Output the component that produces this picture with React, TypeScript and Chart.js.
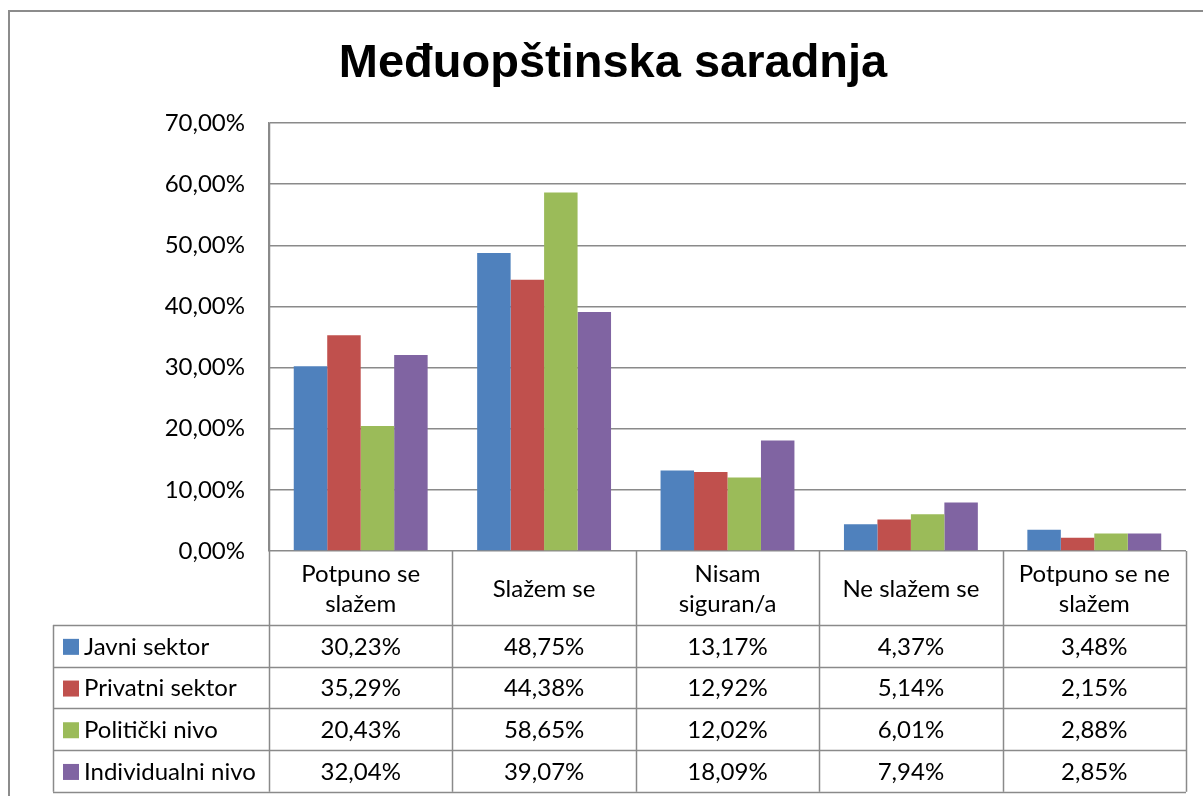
import React, { useEffect, useRef } from "react";
import { Chart, registerables } from "chart.js";

Chart.register(...registerables);

const TITLE = "Međuopštinska saradnja";
const categories: string[][] = [
  ["Potpuno se", "slažem"],
  ["Slažem se"],
  ["Nisam", "siguran/a"],
  ["Ne slažem se"],
  ["Potpuno se ne", "slažem"],
];
const seriesNames = ["Javni sektor", "Privatni sektor", "Politički nivo", "Individualni nivo"];
const seriesColors = ["#4F81BD", "#C0504D", "#9BBB59", "#8064A2"];
const javniSektor = [30.23, 48.75, 13.17, 4.37, 3.48];
const privatniSektor = [35.29, 44.38, 12.92, 5.14, 2.15];
const politickiNivo = [20.43, 58.65, 12.02, 6.01, 2.88];
const individualniNivo = [32.04, 39.07, 18.09, 7.94, 2.85];
const seriesValues = [javniSektor, privatniSektor, politickiNivo, individualniNivo];
const yMin = 0;
const yMax = 70;
const yStep = 10;

const FONT = "Lato, 'Noto Sans', sans-serif";
const LINE = "#8a8a8a";

const fmt = (v: number) => v.toFixed(2).replace(".", ",") + "%";

const decorPlugin = {
  id: "decor",
  beforeDraw(chart: any) {
    const ctx = chart.ctx;
    ctx.save();
    ctx.fillStyle = "#fff";
    ctx.fillRect(0, 0, chart.width, chart.height);
    ctx.strokeStyle = "#8c8c8c";
    ctx.lineWidth = 2;
    ctx.strokeRect(9, 11, chart.width + 40, chart.height + 40);
    ctx.fillStyle = "#000";
    ctx.font = "bold 47px 'Liberation Sans', Arial, sans-serif";
    ctx.textAlign = "center";
    ctx.textBaseline = "alphabetic";
    ctx.fillText(TITLE, 613, 77);
    ctx.restore();
  },
  afterDraw(chart: any) {
    const ctx = chart.ctx;
    const x = chart.scales.x;
    const area = chart.chartArea;
    const n = categories.length;
    const w = (area.right - area.left) / n;
    const headerBottom = area.bottom + 74;
    const rowH = 41.7;
    const tableBottom = headerBottom + rowH * seriesNames.length;
    const tableLeft = 53;
    ctx.save();
    ctx.strokeStyle = LINE;
    ctx.lineWidth = 1.5;
    // vertical lines
    for (let i = 0; i <= n; i++) {
      const px = Math.round(area.left + i * w) + 0.5;
      ctx.beginPath();
      ctx.moveTo(px, i === 0 ? area.top : area.bottom);
      ctx.lineTo(px, tableBottom);
      ctx.stroke();
    }
    ctx.beginPath();
    ctx.moveTo(tableLeft + 0.5, headerBottom);
    ctx.lineTo(tableLeft + 0.5, tableBottom);
    ctx.stroke();
    for (let r = 0; r <= seriesNames.length; r++) {
      const py = Math.round(headerBottom + r * rowH) + 0.5;
      ctx.beginPath();
      ctx.moveTo(tableLeft, py);
      ctx.lineTo(area.right, py);
      ctx.stroke();
    }
    ctx.fillStyle = "#000";
    ctx.font = `24px ${FONT}`;
    ctx.textAlign = "center";
    ctx.textBaseline = "middle";
    const headerMid = (area.bottom + headerBottom) / 2 + 1;
    categories.forEach((lines, i) => {
      const cx = x.getPixelForValue(i);
      const pitch = 30;
      lines.forEach((ln, j) => {
        const cy = headerMid + (j - (lines.length - 1) / 2) * pitch;
        ctx.fillText(ln, cx, cy);
      });
    });
    seriesNames.forEach((name, r) => {
      const cy = headerBottom + r * rowH + rowH / 2 + 1;
      ctx.fillStyle = seriesColors[r];
      ctx.fillRect(tableLeft + 10, cy - 8, 16, 16);
      ctx.fillStyle = "#000";
      ctx.textAlign = "left";
      ctx.fillText(name, tableLeft + 31, cy);
      ctx.textAlign = "center";
      seriesValues[r].forEach((v, i) => {
        ctx.fillText(fmt(v), x.getPixelForValue(i), cy);
      });
    });
    ctx.restore();
  },
};

export default function App() {
  const ref = useRef<HTMLCanvasElement | null>(null);
  useEffect(() => {
    if (!ref.current) return;
    const chart = new Chart(ref.current, {
      type: "bar",
      data: {
        labels: categories.map((c) => c.join(" ")),
        datasets: seriesNames.map((name, i) => ({
          label: name,
          data: seriesValues[i],
          backgroundColor: seriesColors[i],
          borderWidth: 0,
          categoryPercentage: 0.73,
          barPercentage: 1.0,
        })),
      },
      options: {
        animation: false,
        responsive: false,
        devicePixelRatio: 1,
        layout: { padding: { left: 0, top: 123, right: 17, bottom: 245 } },
        plugins: {
          legend: { display: false },
          title: { display: false },
          tooltip: { enabled: false },
        },
        scales: {
          x: { display: false },
          y: {
            min: yMin,
            max: yMax,
            ticks: {
              stepSize: yStep,
              padding: 24,
              color: "#000",
              font: { family: FONT, size: 24 },
              callback: (v: any) => fmt(Number(v)),
            },
            grid: { color: LINE, lineWidth: 1.5, drawTicks: false },
            border: { display: true, color: LINE, width: 1.5 },
            afterFit: (scale: any) => {
              scale.width = 269;
            },
          },
        },
      },
      plugins: [decorPlugin],
    });
    return () => chart.destroy();
  }, []);
  return (
    <div style={{ position: "fixed", left: 0, top: 0, width: 1203, height: 796, overflow: "hidden" }}>
      <canvas ref={ref} width={1203} height={796} style={{ width: 1203, height: 796, display: "block" }} />
    </div>
  );
}
